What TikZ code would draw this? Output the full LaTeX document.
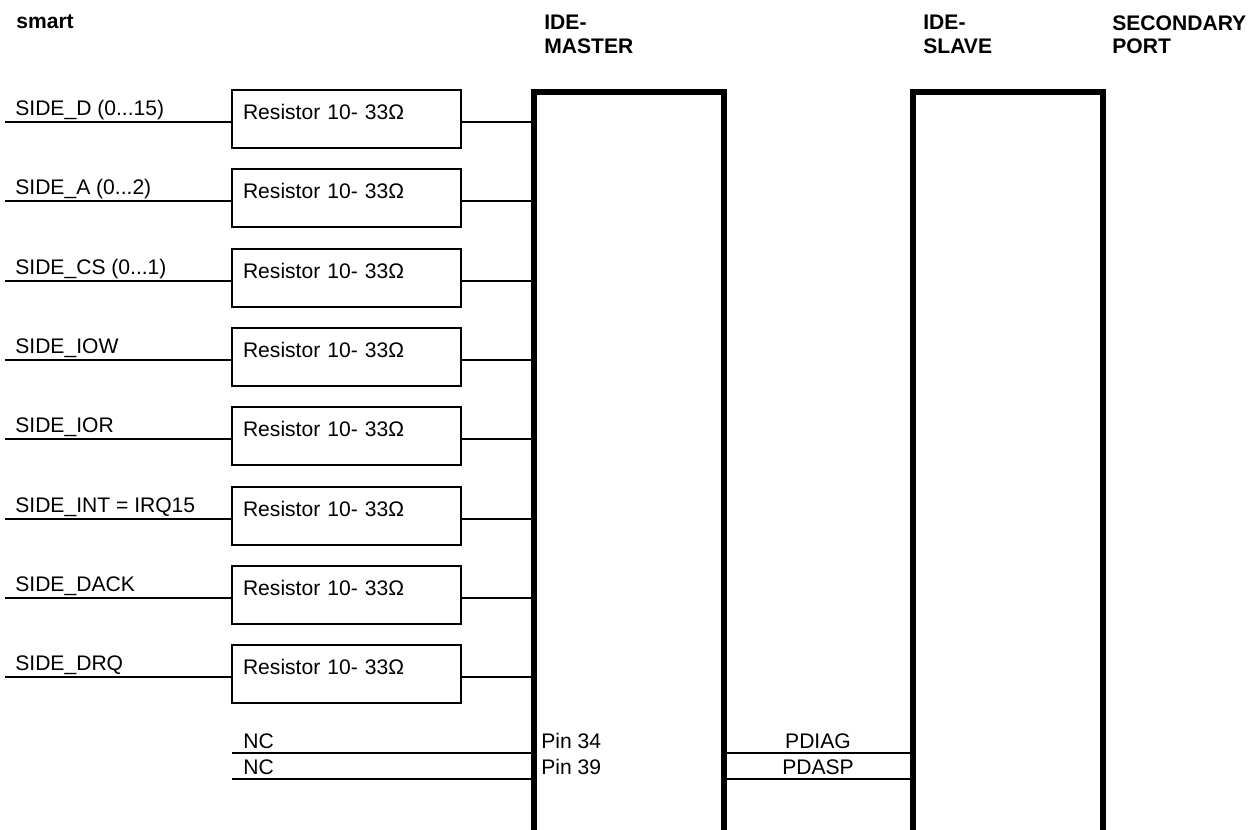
\documentclass[tikz,border=0pt]{standalone}
\usepackage{fontspec}
\setmainfont{Liberation Sans}
\usetikzlibrary{positioning}

\begin{document}
\begin{tikzpicture}[x=0.02cm, y=-0.02cm,
    wire/.style={line width=1.1pt},
    bus/.style={line width=3.4pt, line join=miter},
    resbox/.style={draw, line width=1.1pt, minimum width=4.58cm, minimum height=1.16cm,
      inner xsep=0.22cm, inner ysep=0pt, text width=4.14cm, align=left,
      text height=8pt, text depth=8pt, font=\fontsize{12}{14}\selectfont},
    sig/.style={anchor=base west, inner sep=0pt, font=\fontsize{12}{14}\selectfont},
    hdr/.style={anchor=north west, inner sep=0pt, align=left, font=\bfseries\fontsize{12}{13.6}\selectfont}]
  \useasboundingbox (0,0) rectangle (1260,829);

  % headers
  \node (hSmart) [sig, font=\bfseries\fontsize{12}{14}\selectfont] at (16,28) {smart};
  \node (hMaster) [hdr] at (544,15) {IDE-\\MASTER};
  \node (hSlave) [hdr] at (923,15) {IDE-\\SLAVE};
  \node (hPort) [hdr] at (1112,15) {SECONDARY\\PORT};

  % buses
  \coordinate (mB1) at (534,832);
  \coordinate (mT1) at (534,92);
  \coordinate (mT2) at (724,92);
  \coordinate (mB2) at (724,832);
  \coordinate (sB1) at (913,832);
  \coordinate (sT1) at (913,92);
  \coordinate (sT2) at (1103,92);
  \coordinate (sB2) at (1103,832);
  \draw [bus] (mB1) -- (mT1) -- (mT2) -- (mB2);
  \draw [bus] (sB1) -- (sT1) -- (sT2) -- (sB2);

  % signals with series resistors
  \coordinate (inD) at (5,122);
  \coordinate (inA) at (5,201);
  \coordinate (inCS) at (5,281);
  \coordinate (inIOW) at (5,360);
  \coordinate (inIOR) at (5,439);
  \coordinate (inINT) at (5,519);
  \coordinate (inDACK) at (5,598);
  \coordinate (inDRQ) at (5,677);

  \node (lD) [sig] at (15,115) {SIDE\_D (0...15)};
  \node (lA) [sig] at (15,194) {SIDE\_A (0...2)};
  \node (lCS) [sig] at (15,274) {SIDE\_CS (0...1)};
  \node (lIOW) [sig] at (15,353) {SIDE\_IOW};
  \node (lIOR) [sig] at (15,432) {SIDE\_IOR};
  \node (lINT) [sig] at (15,512) {SIDE\_INT = IRQ15};
  \node (lDACK) [sig] at (15,591) {SIDE\_DACK};
  \node (lDRQ) [sig] at (15,670) {SIDE\_DRQ};

  \node (rD) [resbox] at (346.5,119) {Resistor 10- 33Ω};
  \node (rA) [resbox] at (346.5,198) {Resistor 10- 33Ω};
  \node (rCS) [resbox] at (346.5,278) {Resistor 10- 33Ω};
  \node (rIOW) [resbox] at (346.5,357) {Resistor 10- 33Ω};
  \node (rIOR) [resbox] at (346.5,436) {Resistor 10- 33Ω};
  \node (rINT) [resbox] at (346.5,516) {Resistor 10- 33Ω};
  \node (rDACK) [resbox] at (346.5,595) {Resistor 10- 33Ω};
  \node (rDRQ) [resbox] at (346.5,674) {Resistor 10- 33Ω};

  \path [wire, draw]
    (inD) -- (inD -| rD.west)       (rD.east |- inD) -- (inD -| mT1)
    (inA) -- (inA -| rA.west)       (rA.east |- inA) -- (inA -| mT1)
    (inCS) -- (inCS -| rCS.west)    (rCS.east |- inCS) -- (inCS -| mT1)
    (inIOW) -- (inIOW -| rIOW.west) (rIOW.east |- inIOW) -- (inIOW -| mT1)
    (inIOR) -- (inIOR -| rIOR.west) (rIOR.east |- inIOR) -- (inIOR -| mT1)
    (inINT) -- (inINT -| rINT.west) (rINT.east |- inINT) -- (inINT -| mT1)
    (inDACK) -- (inDACK -| rDACK.west) (rDACK.east |- inDACK) -- (inDACK -| mT1)
    (inDRQ) -- (inDRQ -| rDRQ.west) (rDRQ.east |- inDRQ) -- (inDRQ -| mT1);

  % unconnected pins
  \coordinate (nc1) at (232,753);
  \coordinate (nc2) at (232,779);
  \node (tNC1) [sig] at (243,748) {NC};
  \node (tNC2) [sig] at (243,774) {NC};
  \node (pin34) [sig] at (541,748) {Pin 34};
  \node (pin39) [sig] at (541,774) {Pin 39};
  \node (pdiag) [sig, anchor=base] at (818,748) {PDIAG};
  \node (pdasp) [sig, anchor=base] at (818,774) {PDASP};

  \path [wire, draw]
    (nc1) -- (nc1 -| mT1)   (nc1 -| mT2) -- (nc1 -| sT1)
    (nc2) -- (nc2 -| mT1)   (nc2 -| mT2) -- (nc2 -| sT1);
\end{tikzpicture}
\end{document}
